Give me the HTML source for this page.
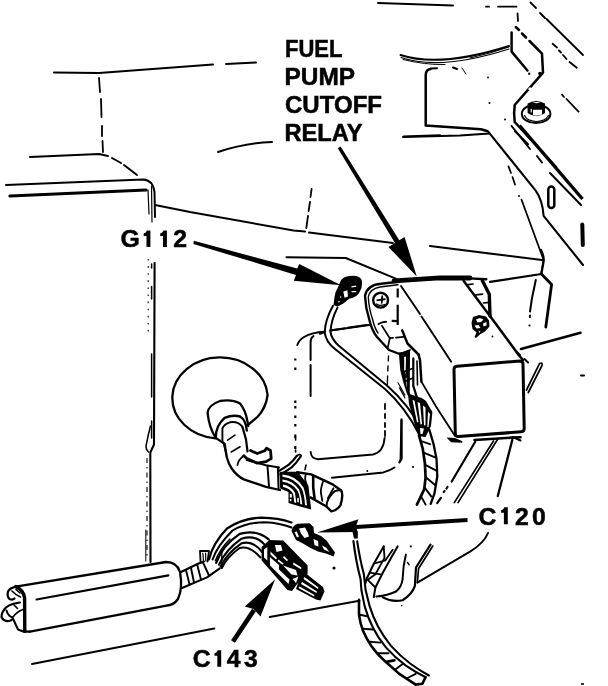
<!DOCTYPE html>
<html>
<head>
<meta charset="utf-8">
<title>Fuel Pump Cutoff Relay</title>
<style>
html,body{margin:0;padding:0;background:#fff;}
body{width:608px;height:686px;overflow:hidden;position:relative;font-family:"Liberation Sans",sans-serif;}
svg{position:absolute;left:0;top:0;display:block;filter:grayscale(1);}
.t{font-family:"Liberation Sans",sans-serif;font-weight:bold;font-size:23.6px;fill:#000;stroke:#000;stroke-width:0.5;}
.t2{font-size:24.8px;}
.l{fill:none;stroke:#000;stroke-width:2;stroke-linecap:round;stroke-linejoin:round;}
.m{fill:none;stroke:#000;stroke-width:2.5;stroke-linecap:round;stroke-linejoin:round;}
.h{fill:none;stroke:#000;stroke-width:3.2;stroke-linecap:round;stroke-linejoin:round;}
.f{fill:#000;stroke:none;}
.w{fill:#fff;stroke:none;}
</style>
</head>
<body>
<svg width="608" height="686" viewBox="0 0 608 686">
<rect x="0" y="0" width="608" height="686" fill="#fff"/>

<!-- ===== LABELS ===== -->
<g id="labels">
<text class="t" x="285" y="56.9" textLength="57.5" lengthAdjust="spacingAndGlyphs">FUEL</text>
<text class="t" x="284.5" y="84.9" textLength="70.5" lengthAdjust="spacingAndGlyphs">PUMP</text>
<text class="t" x="285" y="112.9" textLength="97" lengthAdjust="spacingAndGlyphs">CUTOFF</text>
<text class="t" x="284.5" y="140.5" textLength="78" lengthAdjust="spacingAndGlyphs">RELAY</text>
<text class="t t2" x="120.6" y="247.4">G</text><text class="t t2" x="173.3" y="247.4">2</text>
<path class="f" d="M146.5 230.5 h3.9 v16.5 h-3.9 v-11.1 h-2.8 v-2.4 q2.4 -0.6 3.3 -3 z"/><path class="f" d="M163 230.5 h3.9 v16.5 h-3.9 v-11.1 h-2.8 v-2.4 q2.4 -0.6 3.3 -3 z"/>
<text class="t t2" x="478.5" y="524.7">C</text><text class="t t2" x="514.9 532.1" y="524.7">20</text>
<path class="f" d="M503.9 507.3 h3.9 v17 h-3.9 v-11.6 h-2.8 v-2.4 q2.4 -0.6 3.3 -3 z"/>
<text class="t t2" x="192.8" y="667">C</text><text class="t t2" x="226.7 244.1" y="667">43</text>
<path class="f" d="M217.3 650.3 h3.9 v16.5 h-3.9 v-11.1 h-2.8 v-2.4 q2.4 -0.6 3.3 -3 z"/>
</g>

<!-- ===== TOP LEFT PANEL LINES ===== -->
<g id="topleft">
<path class="l" d="M54 72.5 L99 73 L213 64.5 M226 64 L256 62.5"/>
<path class="l" d="M99 78 L100 92 M101 99 L101.5 117 M102 126 L102 136 M102.5 141 L103 152" style="stroke-width:1.8"/>
<path class="l" d="M30 157 L99 154 L108 156 M112 158 L121 163 M124 165 L137 175"/>
<path class="l" d="M6 185 L143 179.5 Q153 180 154.5 192 L155 217"/>
<path class="h" d="M10 196 L146 190"/>
<path class="l" d="M148 190 L149 214 M151.5 186 L152 222" style="stroke-width:1.2"/>
<path class="l" d="M155 205 L190 212.1 L293.6 230.5 L305 231.6 M309 232.6 L393 243"/>
<path class="l" d="M430 246 L542 260" style="stroke-width:2.2"/>
<path class="l" d="M218 152 Q245 143 272 142"/>
</g>

<!-- ===== TOP RIGHT: BRACKET, BOLT, BODY LINES ===== -->
<g id="topright">
<path class="l" d="M378 3 L453 5.5"/>
<path class="l" d="M486 6.7 L489 6.7 M498 6.7 L516.5 6.7 M517.5 13.5 L518 21" style="stroke-width:1.8"/>
<!-- dashed diagonals far right -->
<path class="l" d="M530.5 2.5 L536 8 M540 13 L545 18 M546.5 19 L583 55" style="stroke-width:1.8"/>
<path class="l" d="M552.6 43.8 L557 47.5 M559 50.5 L561 52.5 M563 55 L566.5 59 M569.5 62 L576.8 67.8" style="stroke-width:1.8"/>
<path class="l" d="M562 94.7 L564 97 M566.5 99 L578.5 111.6" style="stroke-width:1.8"/>
<!-- arc (multi stroke) -->
<path class="l" d="M400.5 55 Q440 68 509 46"/>
<path class="l" d="M401 57.5 Q440 71 509 49" style="stroke-width:1.1"/>
<path class="l" d="M403 59.5 Q425 65 445 64.5 M470 58 Q492 53 509 47" style="stroke-width:1"/>
<!-- flap -->
<path class="m" d="M511.6 32.6 L511.6 51.6 L527.4 70.5"/>
<circle class="f" cx="529.2" cy="73.7" r="1.2"/>
<path class="m" d="M515.8 27 L519 30 M522 33.5 L526 37.5 M529.5 41 L542 53.7 L543 72.6 L514.7 105 Q513.5 113 514.7 122 L556 167"/>
<circle class="f" cx="540" cy="73.5" r="1.8"/>
<path class="w" d="M528 89 L531 92 L533 90 L530 87 Z"/>
<!-- inner plate -->
<path class="m" d="M430.5 69 Q426 69.5 425.7 75 L425.7 125.6 L481 129.3 L487 131"/>
<path class="l" d="M431 68.5 L437 68.2 M453 67.5 L457 69" />
<path class="l" d="M462 68 L466 74" style="stroke-width:1"/>
<circle class="f" cx="488" cy="77.5" r="0.9"/><circle class="f" cx="489.5" cy="103" r="1"/><circle class="f" cx="505" cy="119.6" r="1"/>
<path class="l" d="M403 137 L460 135.5 L489.6 133.5"/>
<!-- bolt -->
<ellipse class="l" cx="536.1" cy="113.9" rx="14.3" ry="9.2" style="stroke-width:2"/>
<path class="l" d="M524.5 115.5 Q527 121 536 121.5 Q545 121.5 548.5 115.5" style="stroke-width:1.2"/>
<path class="f" d="M527.6 103.5 Q536 98.5 545 103.5 L545 113 Q536.5 119.5 527.6 113 Z"/>
<path class="w" d="M533 109.8 L542 109.8 L542 114.6 Q537 116.4 533 115.2 Z"/>
<path class="w" d="M532.5 102.6 Q536.5 101.2 540.5 102.6 Q536.5 103.8 532.5 102.6 Z"/>
<path class="w" d="M530.6 108.8 L531.8 108.8 L531.8 112.6 L530.6 112.2 Z"/>
<!-- lines below bracket -->
<path class="l" d="M511.6 126 L530 149"/>

</g>

<!-- ===== RIGHT SIDE BODY ===== -->
<g id="rightbody">
<path class="l" d="M488 131.4 L535.7 190.6 Q542.5 200 543.6 215.8 L583 265" style="stroke-width:2.1"/>
<path class="h" d="M519.5 125.5 L582.5 199" style="stroke-width:3.4;stroke-linecap:butt"/>
<path class="l" d="M515 131.3 L528 144.3 M537 156 L542 162.5 M550 173 L581 205"/>
<rect class="m" x="548.3" y="186.5" width="6" height="21.5" rx="3" ry="3"/>
<path class="h" d="M582.3 224.5 L582.8 245" style="stroke-width:4"/>
<path class="l" d="M508.5 166.4 L511 173 M512.5 177 L515 184.6 M521.5 199.6 L543.6 260 L541 274" style="stroke-width:1.7"/>
<circle class="f" cx="519" cy="196" r="1"/>
</g>

<!-- ===== ARROWS ===== -->
<g id="arrows">
<!-- FUEL PUMP CUTOFF RELAY arrow -->
<path class="f" d="M340.6 146.5 L401.2 243.2 L396.8 246 L337.8 148.3 Z"/>
<path class="f" d="M416.8 276.5 L388.5 247 L404.5 237 Z"/>
<!-- G112 arrow -->
<path class="f" d="M193.8 240.8 L297.2 268.6 L299.3 264 L341 285.3 L293.8 280.8 L296 274.9 L193.4 244 Z"/>
<!-- C120 arrow -->
<path class="h" d="M467.5 520 L356 527" style="stroke-width:4.2;stroke-linecap:butt"/>
<path class="f" d="M317 532.6 L358.5 519.2 L356 526 L357.6 532 Z"/>
<!-- C143 arrow -->
<path class="h" d="M233 641.5 L254 610" style="stroke-width:4.7;stroke-linecap:butt"/>
<path class="f" d="M275 579.5 L244.7 606.5 L253.5 609 L260.5 616.5 Z"/>
</g>

<!-- ===== MID LINES BEHIND RELAY ===== -->
<g id="midlines">
<path class="l" d="M311.6 189 L310.5 197 M310 202 L308.6 211 M308 216 L306.3 228" style="stroke-width:1.8"/>
<path class="l" d="M286.5 257.3 L345.8 258 L395.8 278.7"/>
<path class="l" d="M403.7 136.6 L440 135.3"/>
</g>

<!-- ===== RELAY ===== -->
<g id="relay">
<!-- back bracket -->
<path class="l" d="M541 250 Q544.5 257 543.5 262 L541.4 274 L490 281.8" style="stroke-width:2.2"/>
<path class="m" d="M541.4 274 L551.6 284.5 L545.8 327" style="stroke-width:2.8"/>
<path class="l" d="M535.8 280 L532 298 L530 311.5 M530 315.5 L529.8 317"/>
<circle class="f" cx="529.5" cy="325.5" r="1.1"/>
<!-- top thick edge -->
<path class="h" d="M394 280.8 L440 277.8 L470 278" style="stroke-width:4.8"/>
<!-- relay top right stepped edge -->
<path class="m" d="M469.6 278.4 L486.3 279.2" style="stroke-width:2.4"/>
<path class="h" d="M482.3 280.4 L489.3 294.2 L490 316" style="stroke-width:3.4"/>
<path class="m" d="M463.7 281.1 L485.6 310.3 L490 316 L519.1 355.5 L523 360" style="stroke-width:2.5"/>
<path class="l" d="M468 284.6 L473 284 M476 294.8 L482.5 294.2 M483.5 303 L489 302.3" style="stroke-width:1.7"/>
<!-- top left edge -->
<path class="l" d="M401 286 L420 314 M421.5 316.5 L451.2 361.8" style="stroke-width:1.9"/>
<!-- front face -->
<path class="m" d="M457 366.3 L520 361 Q523 361 523 364 L524.2 428.5 Q524.2 431.5 521 431.8 L458.5 436.5 Q455.4 436.7 455.3 433.5 L454 369.5 Q454 366.5 457 366.3 Z" style="stroke-width:3"/>
<!-- screw on top -->
<path class="f" d="M473 317 L479 315 L486 316.5 L489 320.5 L489.5 326.5 L485 331.5 L480.5 334 L476 338 L474.5 337 L476.5 332.5 L472.5 329 L471.5 323 Z"/>
<path class="w" d="M476 319.5 L480 318 L483.5 319.5 L481 322 L477.5 322.5 Z M483 323.5 L486.5 322 L486.5 325.5 L483.5 326.5 Z M474.5 325.5 L478.5 325 L480.5 328 L476.5 328.5 Z M478.5 331.5 L480.5 331 L479.5 333 Z"/>
<circle class="f" cx="492.5" cy="336.5" r="0.9"/>
<!-- line from right -->
<path class="m" d="M521 349 L580.5 332.8" style="stroke-width:2.6"/>
<path class="l" d="M581 375.5 L584 375.5"/>
<path class="l" d="M516.6 352 L520 355 M524.5 359 L528 362.5"/>
<!-- wire loop right of face -->
<path class="l" d="M539.5 363.7 L526.5 390 M542 365.5 L528.3 392.5 M539.5 363.5 Q542.6 362 542 365.5" style="stroke-width:1.7"/>
<!-- below face -->
<path class="f" d="M446.5 437.5 L455 438 L462.5 441.2 L462 442.8 L451 442.2 Z"/>
<path class="m" d="M474.5 440 L512 437.6 L520.5 437.2" style="stroke-width:2.6"/>
<path class="l" d="M513 437 L520.5 440.5"/>
<path class="l" d="M475.2 441.7 L451.7 481.5 M447.5 487 L446.5 488.5 M444.5 491 L443.7 492.2 M440.9 497.8 L437.2 503.2" style="stroke-width:2.2"/>
<path class="l" d="M493.5 441 L454.3 502.6 M497.5 439.5 L458 502.6" style="stroke-width:1.7"/>
<path class="l" d="M512.3 439.9 L497.8 496" style="stroke-width:2.3"/>
<!-- lower left edge of relay body -->
<path class="l" d="M421.4 381.6 L435.7 406 L455 436" style="stroke-width:1.8"/>
</g>

<!-- ===== G112 TERMINAL + WIRE ===== -->
<g id="g112">
<path class="f" d="M341 280.2 Q344 276.5 349.2 276 Q355 275 358.5 276.7 Q362.5 279 362 283.5 Q362 288 360.2 290.7 Q359 294 356.2 295.9 Q353 298 349.2 298.8 L343.3 303.5 L337.5 306.5 L333.5 305 L334.6 296.5 Q335.5 291 337.5 288.3 Z"/>
<path class="w" d="M343.3 291.5 L347.4 290.2 L348 296.5 L344.5 297.8 Z M351.5 286.2 L356.2 285.6 L356.2 286.8 L351.5 287.4 Z M351.5 291 L356.2 291 L356.2 292.2 L351.5 292.2 Z M340 296.5 L341.2 296.2 L341.2 297.6 L340 297.8 Z M338.3 301 L339.6 300.8 L339.6 302.2 L338.3 302.4 Z"/>
<!-- wire (double line) -->
<path class="l" d="M333 305.8 Q325 320 324.7 332.6 Q326 342 335 349 L385 389 Q405 407 419 434" style="stroke-width:2"/>
<path class="l" d="M337.5 307.6 Q331 320 330.5 332 Q331.5 339 338.5 345.5 L387.5 386 Q408 404 423 431" style="stroke-width:2"/>
<path class="l" d="M331.7 330.3 L344.5 328.4 M348 327.8 L366.6 325"/>
<path class="l" d="M320 333.8 L324.7 332"/>
</g>

<!-- ===== RELAY BRACKET + CONNECTOR ===== -->
<g id="bracket">
<!-- bracket outer/inner curved edge -->
<path class="m" d="M399 281.8 L381 283.8 Q367 285 365 296 Q365.5 308 369.4 320 Q372 331 377 337 L389 350 L399.6 354" style="stroke-width:2.4"/>
<path class="l" d="M398 284.8 L380 287 Q369.5 289 368.3 297 Q369 309 372.5 319 Q374.5 328 378 333" style="stroke-width:1.4"/>
<!-- screw -->
<circle class="m" cx="380.6" cy="300.2" r="7.4" style="stroke-width:2.4"/>
<path class="f" d="M376.5 299.5 L381 298.8 L381.5 295.5 L383.2 295.5 L383 298.5 L385.5 298.3 L385.5 300 L382.8 300.4 L382.5 303.5 L380.8 303.8 L381 300.8 L376.7 301.3 Z"/>
<path class="l" d="M376.5 304 Q380 306.5 384.5 304.5" style="stroke-width:1.3"/>
<!-- dash-dot vertical -->
<path class="l" d="M397.7 288.4 L397.7 297.6 M397.7 304.8 L397.7 325 M391.7 320.8 L397.5 321.2" style="stroke-width:2.2;stroke-linecap:butt"/>
<!-- connector top -->
<path class="l" d="M378.6 324 Q382 322 386 321.8"/>
<path class="l" d="M381.9 325.8 L389.8 338.2 M387.8 347.4 L389.8 338.2" style="stroke-width:1.7"/>
<path class="l" d="M389.8 338.2 L393 337.9 M396 337.6 L403.6 336.9" style="stroke-width:1.7"/>
<path class="l" d="M399.6 354 L410 350" style="stroke-width:1.8"/>
<path class="m" d="M402.2 330.4 L407.5 343.5 L418.5 354.5"/>
<!-- connector right edge -->
<path class="m" d="M418.5 354.5 L420 360 L421.4 381.6"/>
<!-- connector body (dark) -->
<path class="f" d="M398.8 352.5 L410 351 L409.6 391 L411.5 401.5 L407 394 L403.5 383 L400.3 370.6 Z"/>
<path class="w" d="M404.2 357 L406 356.5 L405.6 374 L404.2 370 Z M405.8 378 L407 377.5 L407 388 L406.2 385 Z"/>
<path class="m" d="M408.7 352.2 L408 367.5 L408 390.5" style="stroke-width:2.8"/>
<path class="m" d="M413.3 358.3 L413.3 385.9 L417.1 398.1" style="stroke-width:2.2"/>
<path class="l" d="M404.5 371.5 L412.5 368.5 M405 381.5 L413 378 M417 361 L417.5 385" style="stroke-width:1.6"/>
<path class="l" d="M398 382.8 L404.9 395 M399.5 388 L405 398" style="stroke-width:1.2"/>
<!-- wire fan below connector -->
<path class="f" d="M408 393.5 L421.7 398 L426 401 L432.4 412 L431 426 L425.5 437 L418.6 436.3 L414 422 L409 404 Z"/>
<path class="w" d="M412.5 400 L414.5 400.5 L418.5 422 L417 422.5 Z M417.5 402 L420 403 L422 424 L420.5 424.5 Z M423 405.5 L425.5 407.5 L425.5 425 L424 425.5 Z M428 411.5 L430 414 L428.5 427 L427.3 427 Z M420 428 L424 428.5 L422.5 434 L420.5 434 Z"/>
</g>

<!-- ===== RECESS PANEL ===== -->
<g id="recess">
<path class="l" d="M297.3 345 Q299 340 304 337 Q312 332.5 324.5 331.8"/>
<path class="l" d="M295.3 358.5 L295.3 360.5 M295.3 367.5 L295.3 370 M295.3 400.5 L295.3 403 M295.3 406 L295.3 408.5 M295.3 415.5 L295.3 418 M295.3 424 L295.3 426.5 M295.3 434.5 L295.3 438 M295.3 446 L295.3 449" style="stroke-width:2.2;stroke-linecap:butt"/>
<path class="l" d="M313.5 336 Q310.6 338 310.6 342 L310.6 360 M310.6 365 L310.6 396" style="stroke-width:2"/>
<path class="l" d="M310.7 452 Q311 458.5 318 459.3 L373 454.5 Q383.5 452 384.6 438" style="stroke-width:1.9"/>
<path class="l" d="M385 404 L385 409 M385 414 L385 418 M385 423 L385 427 M385 431 L385 436" style="stroke-width:1.8"/>
<path class="l" d="M388.5 356 L388.3 361 M388 366 L387.8 371 M387.6 376 L387.3 386" style="stroke-width:1.4"/>
<path class="l" d="M401.3 420.3 L400.4 461" style="stroke-width:1.7"/>
<path class="l" d="M332 477.7 L383.4 472.4 Q390 470.5 394.5 467.5"/>
<circle class="f" cx="367.3" cy="471" r="1"/>
<circle class="f" cx="413" cy="467" r="1.1"/>
<path class="l" d="M330 330.5 L371 324.7"/>
<path class="l" d="M306 465 L305 469.6 M295.6 438 L295.6 440 M295.6 450 L295.6 452" style="stroke-width:1.6"/>
</g>

<!-- ===== PANEL EDGE (vertical) ===== -->
<g id="paneledge">
<path class="m" d="M154.6 263 L154 444.5 L150.3 452.5 L150.5 562" style="stroke-width:2.1"/>
<path class="l" d="M148.2 259 L148.2 333" style="stroke-width:1.1;stroke-dasharray:1.6 5.5;stroke-linecap:butt"/>
<path class="l" d="M151.6 264 L151.6 268 M151.6 286.5 L151.6 299 M151.6 354 L151.6 397 M151.6 421 L151.6 438" style="stroke-width:1.5"/>
<path class="l" d="M150.5 426 L148.5 434 L146 446 Q146 450 148.5 452" style="stroke-width:1.5"/>
<path class="l" d="M147 458 L147 556" style="stroke-width:1.1;stroke-dasharray:5 4 1.5 4;stroke-linecap:butt"/>
</g>

<!-- ===== GROMMET + BOOT + HARNESS ===== -->
<g id="grommet">
<path class="m" d="M215.7 438.3 A47.7 40.5 0 1 1 267.6 395 Q266 408 257.2 417.2 L249 424" style="stroke-width:2.3"/>
<!-- bulge -->
<path class="m" d="M215.7 438 Q209 427 207.6 412.8 Q208.5 405 220 401 Q232 399 240 403.5 Q245.5 410 247.5 421.6 L248.3 426" style="stroke-width:2.3"/>
<!-- ring -->
<path class="m" d="M215.7 437.9 Q215.5 426 224.6 417.9 Q233 414.5 240 416.5 Q246 420 246.8 430.5" style="stroke-width:2.4"/>
<path class="l" d="M222.4 439.4 L222.4 428.3 Q224 424 230 422.3 Q238 421 242.4 426.8" style="stroke-width:1.9"/>
<!-- hose -->
<path class="m" d="M215.7 437.9 L224.6 443.8 L226.8 457.2 Q228.5 464 232 469 Q237 476 243.8 479.4 L266 486.8 L280 490" style="stroke-width:2.3"/>
<path class="l" d="M222.4 439.4 L226.8 457.2" style="stroke-width:1.4"/>
<path class="m" d="M242.4 426.8 L246 439.4 L247.5 451.5" style="stroke-width:2.2"/>
<path class="l" d="M227.6 440.1 L235 435.2 M231.3 452 L240.1 446.8" style="stroke-width:1.6"/>
<path class="l" d="M243.8 455.7 Q238 460 237.5 465" style="stroke-width:1.8"/>
<!-- hook -->
<path class="m" d="M250.5 450.5 L257.2 453.5 L264.6 450.8 L266.5 448.3 L270.5 450.5 L271.2 458.6 L266 461.6 L257.2 463.1 L246.8 458.6 L243.8 455.7" style="stroke-width:2.8"/>
<path class="l" d="M246.8 460.1 L266 465.3 L279 467.5"/>
<path class="l" d="M267.5 466 L269 486.8 M277.9 467.5 L278.6 489.5"/>
<!-- wire going up -->
<path class="m" d="M279 470.9 Q284 468 288.8 464.6 Q293.5 460.5 296.8 455.8" style="stroke-width:2.2"/>
<path class="m" d="M280.4 474.4 Q286 471.5 291.6 467.4 Q296.5 463 300.3 457" style="stroke-width:2.2"/>
<path class="l" d="M296.8 455.8 Q299.5 453.5 301.2 455.5 L300.3 457" style="stroke-width:1.8"/>
<!-- fan of wires -->
<path class="f" d="M279.5 471.7 L297.7 471.7 L308.4 485.6 L311.2 509.5 L300 506.5 L288.5 503 L288.5 492 L280.2 488.5 Z"/>
<path class="w" d="M282.5 474.6 Q296 475.5 303.5 487.5 Q306 495 307 505.5 L305 505 Q304.5 495 302 489 Q295 478 282.5 476.8 Z"/>
<path class="w" d="M282.5 479.6 Q293 480.5 299 489.5 Q301.5 496 302.3 504.5 L300.3 504 Q300 496 297.7 491 Q292.5 483 282.5 481.8 Z"/>
<path class="w" d="M283 484.5 Q291.5 486 295 493 L296.3 503 L294.3 502.5 L293.2 494 Q290.5 488.7 283 487 Z"/>
<path class="w" d="M289.8 494 L291.8 494 L291.8 497.5 L289.8 497.5 Z M289.8 499 L291.3 499 L291.3 501.5 L289.8 501 Z M297.2 498 L298.8 498 L298.8 502.5 L297.2 502 Z"/>
<!-- taped stub -->
<path class="m" d="M297.2 472.3 L311.1 474.4 L332.1 484.1 L341.2 490.4 Q343.6 495 340.5 505.1 Q337 510.5 331.4 511.4 L326.5 506.5 L310.4 497.4" style="stroke-width:2.4"/>
<path class="l" d="M326.5 506.5 Q326.5 498.5 334.9 491.1 Q338 489.8 341.2 490.4" style="stroke-width:2"/>
<path class="m" d="M313.2 476.5 L313.2 487 L314.6 498.8" style="stroke-width:2.6"/>
<path class="l" d="M323.7 480 Q320.5 488 320.9 492.5 L322.3 500.9 M333.5 488.3 L327.9 498.1 M306 473.8 Q304 479 306.5 484" style="stroke-width:1.8"/>
</g>

<!-- ===== TAPED WIRE FROM RELAY CONNECTOR DOWN ===== -->
<g id="tapedwire">
<path class="m" d="M419 435.4 L422.7 448.5 L424.9 463.1 L425.6 477.7 L424.2 489.3 L416.9 504.6" style="stroke-width:2.7"/>
<path class="m" d="M429.3 429.6 L433.6 444.2 L436.5 458.7 L437.3 476.2 L434.4 493.7 L430.7 503.9" style="stroke-width:2.3"/>
<path class="l" d="M421.2 441.2 L430 444.2 M424.2 452.9 L435.1 457.3 M426.3 465.3 L435.8 470.4 M426.3 477.7 L435.1 485 M424.9 487.9 L431.4 496.6 M421.2 496.6 L425.6 504.6" style="stroke-width:1.9"/>
<path class="l" d="M401.6 419.4 L401.6 458.7 L399.4 462.4" style="stroke-width:2.2"/>
</g>

<!-- ===== BOTTOM RIGHT: HOSE + PANEL ===== -->
<g id="bottomright">
<path class="l" d="M488 533 Q484 543 470 551.7 L417.4 582.6"/>
<path class="m" d="M430.5 544.7 L416 567.5 L414.9 585.9 Q412 594.5 402.6 600.2 Q392 602.5 382.8 597.4" style="stroke-width:2.2"/>
<path class="l" d="M432.8 546 L418.6 568.5 L417.4 582" style="stroke-width:1.7"/>
<path class="l" d="M405.9 554.6 Q403 566 402.6 579.3 Q401.5 587 396 591.5 Q388 595.5 376.3 596.5" style="stroke-width:2"/>
<circle class="f" cx="410.8" cy="546.4" r="1.1"/><circle class="f" cx="401.7" cy="605.6" r="0.8"/>
<path class="l" d="M407.5 562.5 L409.2 564.8" style="stroke-width:1.4"/>
<!-- upper taped section -->
<path class="m" d="M383.7 546.4 L373.8 563.7 L366.4 579.3 L365.6 583 M397.6 546.4 L391 557.9 L382.8 572.7 L375.4 587.5 L373.8 597" style="stroke-width:2"/>
<path class="l" d="M383.7 546.4 L384.5 557.9 L375.4 574.3 L367.5 580 M373.8 563.7 L385.3 560.4 L392.7 549.7 M369.7 572.7 L380.4 574.3 M367.2 579.3 L375.4 587.5" style="stroke-width:1.8"/>
<!-- wire (double) -->
<path class="l" d="M353.4 541 Q356 562 360.6 579.3 L361.4 590 L364.7 606.4 Q368 618 373 627.8 Q378 638 386.1 647.6 Q395 657.5 405.9 665.7 Q415 672 425.6 677.2" style="stroke-width:2.1"/>
<path class="l" d="M357.2 541.4 Q360 560 363.9 574.3 L365.6 590 L369.7 606.4 Q373 617 377.9 626.2 Q383.5 636.5 391 645.9 Q400 656 410.8 664 Q419 670 428.9 675.5" style="stroke-width:2.1"/>
<path class="f" d="M352.5 532 L357.8 531.5 L357.8 538.5 L354 538.5 Z"/>
<!-- lower taped hose -->
<path class="m" d="M359 599.9 L359 614.7 Q360 623 363.1 631.1 Q366.5 639 371.3 645.9 Q377 654 384.5 660.7 L399.3 673.9 L415.7 684.6 L422.3 683.8 L425.6 677.2" style="stroke-width:2.6"/>
<path class="l" d="M359.8 614.7 L367.2 616.3 M363.1 628.7 L373 629.5 M369.7 641.8 L380.4 642.6 M377.9 653.3 L388.6 653.3 M396 668.9 L402.6 664 M407.5 678 L415.7 673.9" style="stroke-width:1.9"/>
<path class="l" d="M386.1 661.8 L394.3 660.4" style="stroke-width:2.8"/>
<!-- panel bottom edge -->
<path class="l" d="M269.7 617 L359.4 600.7"/>
<path class="l" d="M32 664 L214.3 628.6"/>
</g>

<!-- ===== CONNECTORS C120 / C143 + WIRES ===== -->
<g id="connectors">
<!-- upper wire set to C120 -->
<path class="l" d="M209 559.3 Q213 543 227 528.5 Q243 518 261.4 517.7 Q278 518 291.5 522.5" style="stroke-width:2.3"/>
<path class="l" d="M212.6 559.5 Q217 546 232.5 530.5 Q247 522.3 265 522.3 Q280 523 291.5 527.5" style="stroke-width:2"/>
<path class="l" d="M215.5 560.5 Q220 549 230 539" style="stroke-width:1.6"/>
<!-- lower wire set to C143 -->
<path class="l" d="M216.2 562.9 Q222 546 239.7 533.9 Q256 529 268.7 539.4" style="stroke-width:2.3"/>
<path class="l" d="M219 564.7 Q226 549.5 241.5 538.7 Q256 534 265.5 545.7" style="stroke-width:2.1"/>
<path class="l" d="M220.7 566.5 Q227 553 241.5 543.3 Q253 540 262 552" style="stroke-width:2.1"/>
<path class="l" d="M221.8 568 Q227.5 556.5 239.7 548 Q250 545.5 260.5 557.5" style="stroke-width:2"/>
<path class="l" d="M221.8 552 L221.8 567" style="stroke-width:1.3"/>
<!-- C120 connector -->
<path class="f" d="M291.5 531 Q292 526 297.5 523.8 L309.5 523.3 L313.5 527 L314 533 L321 536 L326.5 540.5 L335 552.5 L333.5 556.5 L326 553.5 L318 551.5 L310.5 548 L303 543.5 L296 540 Z"/>
<path class="w" d="M299 528.5 L305 527.5 L307.5 532 L309 536.5 L304.5 538 L301 533.5 Z M294.5 532 L296.8 531.5 L299 536.5 L297 537.5 Z M313.5 539 L318 541 L318.5 546.5 L314.5 545 Z M322 545.5 L326 547.5 L329.5 552 L324 549.5 Z"/>
<!-- C143 connector -->
<path class="f" d="M261.6 547 L269.5 540 L283.3 540.5 L307.6 565.5 L307.6 574 L300 580 L292 591 L287.5 590 L261.6 560.5 Z"/>
<!-- left end face white -->
<path class="w" d="M264 549.5 L267.3 547 L267.3 560.5 L264 557.5 Z"/>
<!-- side face white -->
<path class="w" d="M269.8 557 L279 565 L279 569.5 L289.5 579.5 L288.5 584 L270 565.5 Z"/>
<path class="w" d="M283 565.5 L296 570 L297.5 575.5 L291.5 574.5 Z"/>
<path class="w" d="M292.5 579 L298.5 576.5 L296 583 Z"/>
<!-- top face details -->
<path class="w" d="M275 545 L281 545 L282.5 550.5 L276.5 552 Z"/>
<path class="w" d="M270.5 551.5 L277 558 L276 559.5 L270.5 554.5 Z"/>
<path class="w" d="M284 556 L288 560 L287 561.3 L283 557.5 Z M293.5 562.5 L301.5 567.5 L301 569.2 L293 564.5 Z"/>
<path class="w" d="M278.5 559.5 L283.5 563.5 L282.5 564.8 L277.5 561 Z"/>
<!-- prongs -->
<path class="f" d="M300 577 L304 572 L323 587 L324.5 591.5 L322 597 L320.5 600.5 L316 599.5 L296 589 Z"/>
<path class="w" d="M304.5 577 L318.5 587.5 L318 589 L303.5 579 Z M302 582 L317 591.5 L316.5 593 L301 584 Z M299.5 586.5 L314.5 595 L314 596.5 L298.5 588 Z"/>
<circle class="f" cx="334" cy="568" r="1.6"/>
</g>

<!-- ===== TUBE (bottom left) ===== -->
<g id="tube">
<path class="m" d="M15.8 586.6 L166 562 Q177 562 180 572 Q183 588 178 599 Q174 605 166.5 605.7 L30 631.6" style="stroke-width:2.3"/>
<path class="l" d="M36.5 599.5 L168.4 575.4" style="stroke-width:2.1"/>
<path class="h" d="M15.8 586.6 Q23.5 590 24.6 598 L24.8 631" style="stroke-width:3.4"/>
<path class="l" d="M24.8 631.5 L30 631.6" style="stroke-width:2.3"/>
<!-- cap details -->
<path class="l" d="M15.8 586.6 Q10 588 8 591.5 Q6.8 596.5 9.5 599 Q12.5 600.5 14.5 598.5" style="stroke-width:2.2"/>
<path class="l" d="M12 591 Q15 594.5 20.5 597 M16 589.5 L20 593" style="stroke-width:1.6"/>
<path class="l" d="M20 602.5 Q11 603.5 6 607.5 Q1.5 612 1.5 617 Q3.5 621.5 9 621 Q11.5 620.5 12 619.5" style="stroke-width:2.2"/>
<path class="l" d="M6.5 610.5 Q8 616 12.5 617.5 L18 629.5 L24.5 632" style="stroke-width:2"/>
<path class="l" d="M12.5 617.5 Q17 611.5 23 609.5 M14 605 L17.5 608.5" style="stroke-width:1.6"/>
<!-- taped wire right of tube -->
<path class="m" d="M181 572 L198 563.8 L204 561.5 M182 588 L207 577.4 L219.8 568.3" style="stroke-width:2.1"/>
<path class="l" d="M186 570 L189.5 584.5 M190.9 567.5 L194 582.5 M197.2 564.7 L201 579.5 M203 562.5 L209 575.5" style="stroke-width:1.9"/>
<path class="l" d="M200 551 L209 551 L207.5 561.5 M200 551 L200.6 563" style="stroke-width:1.8"/>
<path class="l" d="M202.8 553 L203.6 562 M205.6 553 L205.8 561" style="stroke-width:1.2"/>
<!-- verticals above -->
<path class="l" d="M145.8 530 L145.8 561" style="stroke-width:1"/>
</g>

<path class="l" d="M581 684 L584 684" style="stroke-width:1.6;stroke-linecap:butt"/>
</svg>
</body>
</html>
